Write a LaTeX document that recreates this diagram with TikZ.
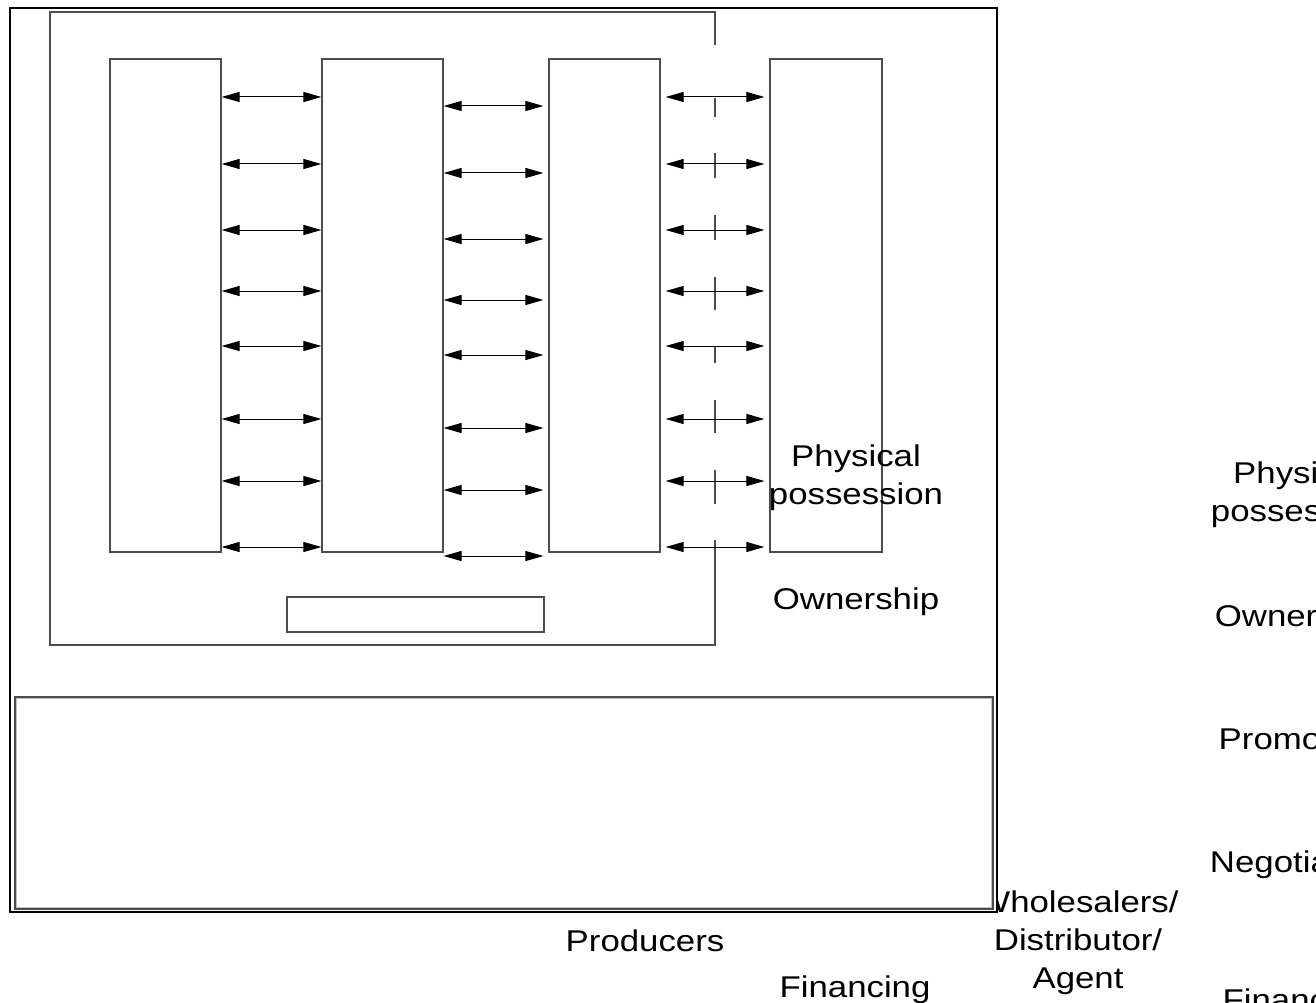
\documentclass[tikz,border=0pt]{standalone}
\usepackage{fontspec}
\newfontfamily\lblfont[FakeStretch=1.16]{Liberation Sans}
\usetikzlibrary{arrows.meta}
\definecolor{boxgray}{gray}{0.3}
\definecolor{lightline}{gray}{0.75}
\begin{document}
\begin{tikzpicture}[x=1pt,y=-1pt,
  colbox/.style={draw=boxgray, line width=1.2pt, inner sep=0pt, minimum height=493pt},
  framebox/.style={draw=boxgray, line width=1.2pt, inner sep=0pt},
  frameline/.style={draw=boxgray, line width=1.2pt},
  dbl/.style={{Triangle[length=18pt,width=10pt]}-{Triangle[length=18pt,width=10pt]}, line width=1pt, draw=black},
  lbl/.style={font=\lblfont\fontsize{30}{38}\selectfont, inner sep=0pt, align=center, text=black}
]
\useasboundingbox (0,0) rectangle (1316,1003);
\clip (0,0) rectangle (1316,1003);

% text partly hidden behind the frame
\node[lbl] (wda) at (1078,942.4) {Wholesalers/\\Distributor/\\Agent};

% outer thick frame
\node[draw=black, fill=white, line width=2.5pt, inner sep=0pt, minimum width=987pt, minimum height=904pt] (outer) at (503.5,460) {};

% bottom wide panel (double line)
\node[draw=boxgray, fill=white, line width=1.2pt, inner sep=0pt, minimum width=978pt, minimum height=212pt] (panel) at (504,803) {};
\draw[lightline, line width=1.2pt] ([shift={(2,2)}]panel.north west) rectangle ([shift={(-2,-2)}]panel.south east);

% inner frame with gap line at x=715
\draw[frameline] (715,45) -- (715,12) -- (50,12) -- (50,645) -- (715,645) -- (715,540);
\foreach \a/\b in {98/117,153/178,215/240,277/310,347/363,400/433,470/504}
  \draw[frameline] (715,\a) -- (715,\b);

% columns
\node[colbox, minimum width=111pt] (box1) at (165.5,305.5) {};
\node[colbox, minimum width=121pt] (box2) at (382.5,305.5) {};
\node[colbox, minimum width=111pt] (box3) at (604.5,305.5) {};
\node[colbox, minimum width=112pt] (box4) at (826,305.5) {};

% small box
\node[framebox, minimum width=257pt, minimum height=35pt] (sbox) at (415.5,614.5) {};

% arrows
\foreach \y in {97,164,230,291,346,419,481,547} {
  \draw[dbl] (box1.east |- 0,\y) -- (box2.west |- 0,\y);
  \draw[dbl, shorten <=5pt, shorten >=5pt] (box3.east |- 0,\y) -- (box4.west |- 0,\y);
}
\foreach \y in {106,173,239,300,355,428,490,556} {
  \draw[dbl, shorten >=5pt] (box2.east |- 0,\y) -- (box3.west |- 0,\y);
}

% labels
\node[lbl] (pp1) at (856,477.4) {Physical\\possession};
\node[lbl, anchor=base] (own1) at (856,609) {Ownership};
\node[lbl, anchor=base] (prod) at (645,951) {Producers};
\node[lbl, anchor=base] (fin1) at (855,997) {Financing};

\node[lbl] (pp2) at (1298,494.4) {Physical\\possession};
\node[lbl, anchor=base] (own2) at (1298,626) {Ownership};
\node[lbl, anchor=base] (promo2) at (1298,749) {Promotion};
\node[lbl, anchor=base] (neg2) at (1298,872) {Negotiation};
\node[lbl, anchor=base] (fin2) at (1298,1010) {Financing};
\end{tikzpicture}
\end{document}
